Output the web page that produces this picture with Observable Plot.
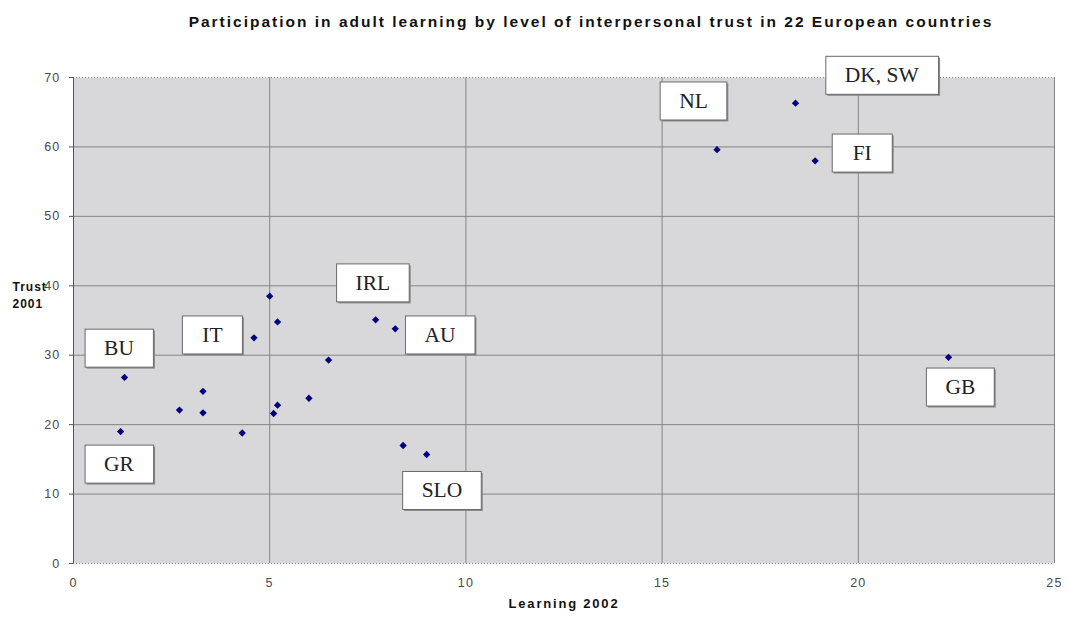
<!DOCTYPE html>
<html><head><meta charset="utf-8">
<script src="https://cdn.jsdelivr.net/npm/d3@7"></script>
<script src="https://cdn.jsdelivr.net/npm/@observablehq/plot@0.6"></script>
<style>
body{margin:0;background:#fff;font-family:Arial,"Liberation Sans",sans-serif;}
#title{height:40px;line-height:43px;font-weight:bold;font-size:15.5px;letter-spacing:2px;text-align:center;padding-left:115px;color:#111;white-space:nowrap;}
#chart svg{display:block;}
</style></head><body>
<div id="title">Participation in adult learning by level of interpersonal trust in 22 European countries</div>
<div id="chart"></div>
<script>
// Scatter data: participation in adult learning (2002) and trust (2001)
const learning = [5.0, 5.2, 4.6, 6.5, 1.3, 3.3, 6.0, 2.7, 3.3, 5.2, 5.1, 1.2, 4.3, 7.7, 8.2, 8.4, 9.0, 18.4, 16.4, 18.9, 22.3];
const trust    = [38.5, 34.8, 32.5, 29.3, 26.8, 24.8, 23.8, 22.1, 21.7, 22.8, 21.6, 19.0, 18.8, 35.1, 33.8, 17.0, 15.7, 66.3, 59.6, 58.0, 29.7];

// Country annotation boxes (anchored in data coordinates)
const labelText = ["BU", "IT", "GR", "IRL", "AU", "SLO", "NL", "DK, SW", "FI", "GB"];
const labelLearning = [1.16, 3.54, 1.16, 7.63, 9.34, 9.39, 15.8, 20.6, 20.1, 22.6];
const labelTrust    = [31.0, 32.9, 14.3, 40.4, 32.9, 10.5, 66.6, 70.3, 59.1, 25.4];

const xTicks = [0, 5, 10, 15, 20, 25];
const yTicks = [0, 10, 20, 30, 40, 50, 60, 70];
const xLabel = "Learning 2002";
const yLabel = "Trust\n2001";
const yLabelAt = 40;

const points = learning.map((v, i) => ({learning: v, trust: trust[i]}));
const labels = labelText.map((t, i) => ({text: t, learning: labelLearning[i], trust: labelTrust[i]}));

const svg = Plot.plot({
  width: 1067,
  height: 580,
  marginTop: 37,
  marginBottom: 57,
  marginLeft: 73,
  marginRight: 13,
  style: {fontFamily: "Arial, 'Liberation Sans', sans-serif", fontSize: "12.5px", color: "#444", background: "#fff"},
  x: {domain: [0, 25], ticks: xTicks, label: null},
  y: {domain: [0, 70], ticks: yTicks, label: null},
  marks: [
    Plot.frame({fill: "#d8d8db", stroke: null}),
    Plot.gridX(xTicks.slice(1), {stroke: "#858585", strokeOpacity: 1}),
    Plot.gridY(yTicks.slice(1, -1), {stroke: "#858585", strokeOpacity: 1}),
    Plot.ruleY([0, 70], {stroke: "#8a8a9a", strokeDasharray: "1,2"}),
    Plot.ruleX([0], {stroke: "#555"}),
    Plot.axisY({ticks: yTicks, tickSize: 4, tickPadding: 9, stroke: "#555", fill: "#4a4a4a", label: null}),
    Plot.axisX({ticks: xTicks, tickSize: 0, tickPadding: 15, fill: "#4a4a4a", label: null}),
    Plot.dot(points, {x: "learning", y: "trust", symbol: "diamond2", r: 3.3, fill: "#00007f", stroke: null}),
    Plot.text(labels, {x: "learning", y: "trust", text: "text", fontFamily: "'Liberation Serif', 'Times New Roman', serif", fontSize: 21.5, fill: "#222"}),
    Plot.text([yLabel], {x: () => 0, y: () => yLabelAt, text: d => d, dx: -61, dy: -7, textAnchor: "start", lineAnchor: "top", lineHeight: 1.4, fontWeight: "bold", fontSize: 12, fill: "#111"}),
    Plot.text([xLabel], {frameAnchor: "bottom", text: d => d, dy: 44, fontWeight: "bold", fontSize: 13, fill: "#111"})
  ]
});

document.getElementById("chart").appendChild(svg);

// letter spacing for axis text to match the wide raster text
svg.querySelectorAll('g[aria-label$="tick label"]').forEach(g => g.setAttribute("letter-spacing", "1.2"));
svg.querySelectorAll("text").forEach(t => {
  if (t.textContent === xLabel) t.setAttribute("letter-spacing", "1.8");
  if (t.textContent.startsWith("Trust")) t.setAttribute("letter-spacing", "1");
});

// white annotation boxes behind the country labels
const ns = "http://www.w3.org/2000/svg";
const labelSet = new Set(labelText);
svg.querySelectorAll("text").forEach(t => {
  if (!labelSet.has(t.textContent)) return;
  const parent = t.parentNode;
  const b = t.getBBox();
  const w = Math.max(b.width + 38, 60), h = 38;
  const cx = b.x + b.width / 2, cy = b.y + b.height / 2;
  const tr = t.getAttribute("transform");
  const mk = (dx, fill, stroke) => {
    const r = document.createElementNS(ns, "rect");
    r.setAttribute("x", cx - w / 2 + dx);
    r.setAttribute("y", cy - h / 2 + dx);
    r.setAttribute("width", w);
    r.setAttribute("height", h);
    r.setAttribute("fill", fill);
    if (stroke) { r.setAttribute("stroke", stroke); r.setAttribute("stroke-width", "1"); }
    if (tr) r.setAttribute("transform", tr);
    return r;
  };
  parent.insertBefore(mk(1.5, "#8a8a8a", null), t);
  parent.insertBefore(mk(0, "#fff", "#6a6a6a"), t);
});
</script>
</body></html>
